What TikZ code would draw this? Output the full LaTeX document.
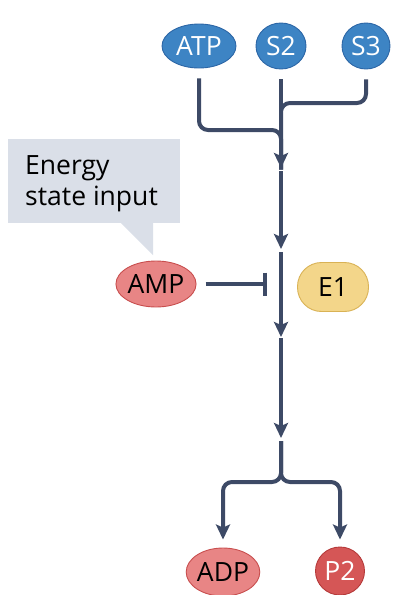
\documentclass[tikz,border=0pt]{standalone}
\usepackage{fontspec}
\setmainfont{Open Sans}
\usepackage{tikz}
\usetikzlibrary{positioning,arrows.meta,shapes.geometric,calc}
\definecolor{flow}{HTML}{3D4A66}
\definecolor{bluefill}{HTML}{3D84C4}
\definecolor{blueedge}{HTML}{2C66A6}
\definecolor{redfill}{HTML}{E88585}
\definecolor{rededge}{HTML}{C84E4E}
\definecolor{darkred}{HTML}{D55656}
\definecolor{darkrededge}{HTML}{B53A3A}
\definecolor{enzfill}{HTML}{F3D68A}
\definecolor{enzedge}{HTML}{D9B255}
\definecolor{note}{HTML}{DADFE8}
\tikzset{
  metab/.style={ellipse, inner sep=0pt, line width=0.9pt, font=\fontsize{26.5}{31}\selectfont},
  bluemet/.style={metab, draw=blueedge, fill=bluefill, text=white},
  redmet/.style={metab, draw=rededge, fill=redfill, text=black},
  darkmet/.style={metab, draw=darkrededge, fill=darkred, text=white},
  enzyme/.style={rectangle, rounded corners=24pt, draw=enzedge, fill=enzfill, line width=0.9pt,
    minimum width=71pt, minimum height=49pt, font=\fontsize{26.5}{31}\selectfont},
  flowline/.style={draw=flow, line width=4pt},
  flowarrow/.style={flowline, -{Stealth[length=15pt,width=14pt,inset=3pt]}}
}
\begin{document}
\begin{tikzpicture}[x=1pt, y=-1pt]
  \useasboundingbox (0,0) rectangle (398,595);
  % substrates
  \node[bluemet, minimum width=74pt, minimum height=44pt] (ATP) at (199,46) {ATP};
  \node[bluemet, minimum width=50pt, minimum height=46pt] (S2) at (281,46) {S2};
  \node[bluemet, minimum width=48pt, minimum height=46pt] (S3) at (366,46) {S3};
  % main axis points
  \coordinate (m1) at (281,169.5);
  \coordinate (m2) at (281,250.5);
  \coordinate (m3) at (281,337.5);
  \coordinate (m4) at (281,439.5);
  \coordinate (inh) at (267,284);
  % regulator and enzyme
  \node[redmet, minimum width=72pt, minimum height=46pt] (AMP) at (156,284) {AMP};
  \node[enzyme] (E1) at (333,287) {E1};
  % products
  \node[redmet, minimum width=73pt, minimum height=48pt] (ADP) at (223,572) {ADP};
  \node[darkmet, minimum width=49pt, minimum height=48pt] (P2) at (340,571) {P2};
  % callout
  \fill[note] (8,139) rectangle (180,223);
  \fill[note] (120,222) -- (153,222) -- (153,255) -- cycle;
  \node[anchor=north west, inner sep=0pt, align=left, font=\fontsize{26.5}{31}\selectfont] (callout) at (25,155) {Energy\\state input};
  % merge of substrates
  \draw[flowline, rounded corners=9pt] ($(ATP.south)+(0,10)$) |- (281,130) -- (m1);
  \draw[flowline, rounded corners=9pt] ($(S3.south)+(0,10)$) |- (281,103) -- (m1);
  \draw[flowarrow, shorten >=1.5pt] ($(S2.south)+(0,10)$) -- (m1);
  % main flux
  \draw[flowarrow, shorten <=1.5pt, shorten >=1.5pt] (m1) -- (m2);
  \draw[flowarrow, shorten <=1.5pt, shorten >=0.5pt] (m2) -- (m3);
  \draw[flowarrow, shorten <=0.5pt, shorten >=1.5pt] (m3) -- (m4);
  % inhibition
  \draw[flowline, -{Bar[width=23pt]}] ($(AMP.east)+(9,0)$) -- (inh);
  % split to products
  \draw[flowarrow, rounded corners=9pt, shorten <=1.5pt] (m4) -- (281,482) -| ($(ADP.north)+(0,-8)$);
  \draw[flowarrow, rounded corners=9pt, shorten <=1.5pt] (m4) -- (281,482) -| ($(P2.north)+(0,-7)$);
\end{tikzpicture}
\end{document}
